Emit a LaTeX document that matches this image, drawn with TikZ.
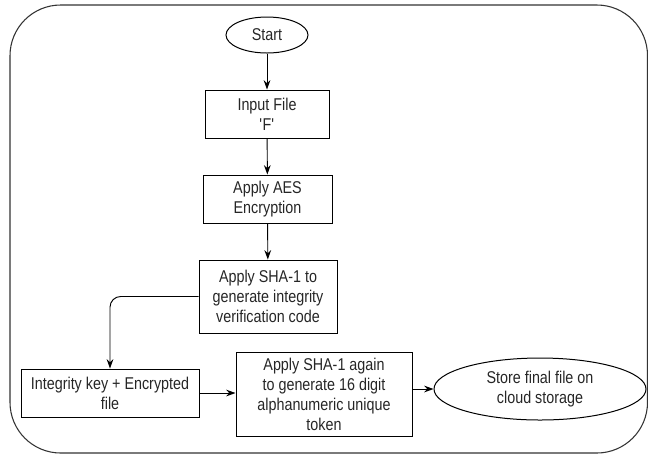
\documentclass[tikz,border=0pt]{standalone}
\usepackage{fontspec}
\setmainfont[FakeStretch=0.84]{Liberation Sans}
\usetikzlibrary{shapes.geometric,arrows.meta}
\begin{document}
\begin{tikzpicture}[x=0.75pt,y=-0.75pt,
  every node/.style={font=\fontsize{12.8pt}{15pt}\selectfont, text=black!85, align=center, inner sep=0pt},
  procbox/.style={draw, line width=0.75pt, rectangle},
  termshape/.style={draw, line width=0.75pt, ellipse},
  flow/.style={draw, line width=0.7pt, -{Stealth[length=7pt,width=5pt]}}
]
\useasboundingbox (0,0) rectangle (648,455);
\draw[line width=0.8pt, rounded corners=38pt, black!80] (10,5) rectangle (647.5,453);

\node[termshape, minimum width=82*0.75pt, minimum height=36*0.75pt] (start) at (267,35) {Start};
\node[procbox, minimum width=124*0.75pt, minimum height=48*0.75pt] (input) at (267,114) {Input File\\\textquotesingle F\textquotesingle};
\node[procbox, minimum width=129*0.75pt, minimum height=48*0.75pt] (aes) at (267.5,199) {Apply AES\\Encryption};
\node[procbox, minimum width=138*0.75pt, minimum height=73*0.75pt] (sha) at (268,296.5) {Apply SHA-1 to\\generate integrity\\verification code};
\node[procbox, minimum width=178*0.75pt, minimum height=48*0.75pt] (key) at (110,393) {Integrity key + Encrypted\\file};
\node[procbox, minimum width=176*0.75pt, minimum height=84*0.75pt] (again) at (324,394) {Apply SHA-1 again\\to generate 16 digit\\alphanumeric unique\\token};
\node[termshape, minimum width=212*0.75pt, minimum height=62*0.75pt] (store) at (540,389) {Store final file on\\cloud storage};

\draw[flow] (start) -- (input);
\draw[flow] (input) -- (aes);
\draw[flow] (aes) -- (sha);
\draw[flow, rounded corners=8pt] (sha.west) -| (key.north);
\draw[flow] (key.east) -- (again.west |- key.east);
\draw[flow] (again.east |- store.west) -- (store.west);
\end{tikzpicture}
\end{document}
